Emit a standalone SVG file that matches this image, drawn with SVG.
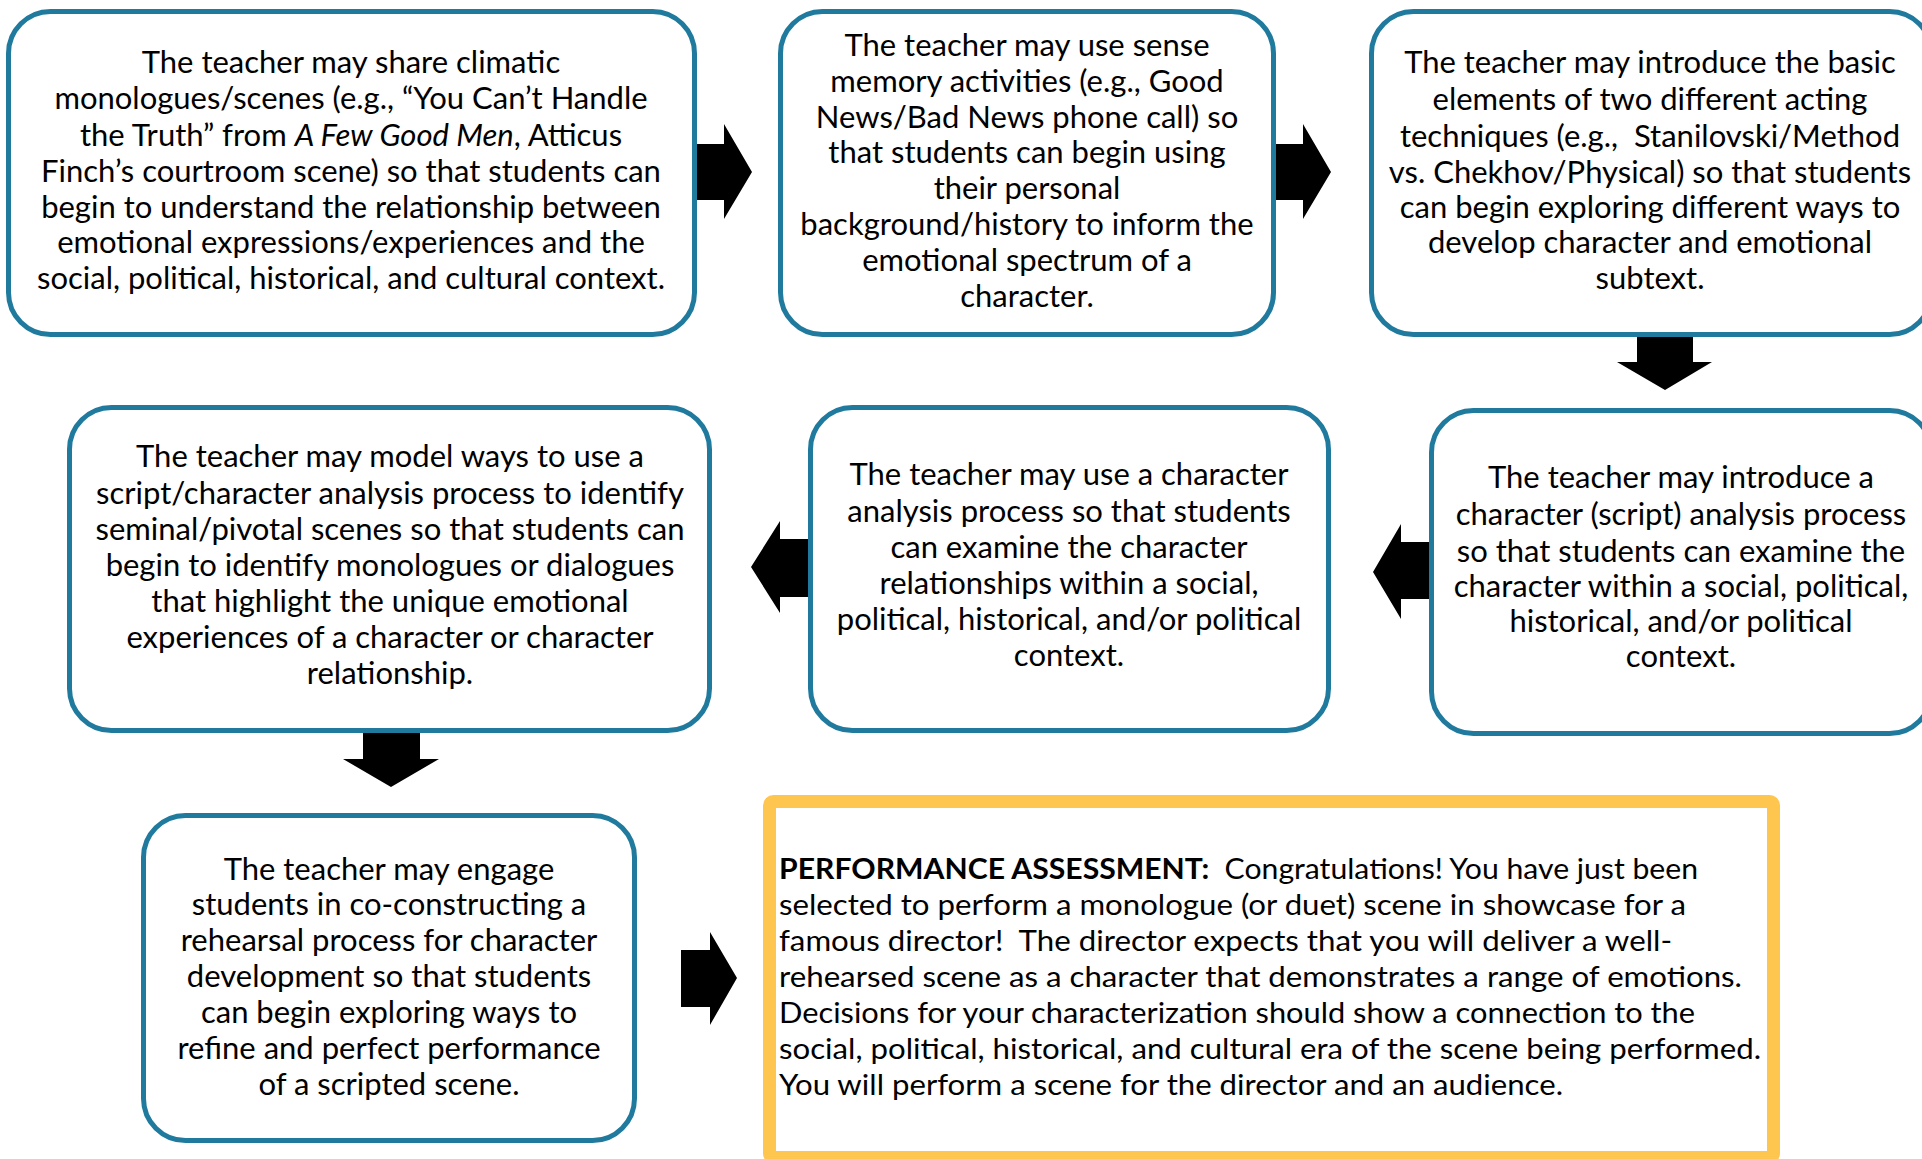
<svg xmlns="http://www.w3.org/2000/svg" width="1922" height="1159" viewBox="0 0 1922 1159">
<style>
.box{fill:#fff;stroke:#1F7A9E;stroke-width:5}
.pa{fill:#fff;stroke:#FFC64F;stroke-width:13}
.t{font-family:Lato,"Open Sans","Liberation Sans",sans-serif;font-size:31px;fill:#000;text-anchor:middle}
.l{font-family:Lato,"Open Sans","Liberation Sans",sans-serif;font-size:28px;fill:#000}
.arr{fill:#000}
</style>
<rect width="1922" height="1159" fill="#fff"/>
<g id="connectors">
<polygon class="arr" points="695,144 724,144 724,124 752,172 724,219 724,200 695,200"/>
<polygon class="arr" points="1274,144 1303,144 1303,124 1331,172 1303,219 1303,200 1274,200"/>
<polygon class="arr" points="1637,336 1693,336 1693,362 1712,362 1665,390 1617,362 1637,362"/>
<polygon class="arr" points="1431,542 1401,542 1401,524 1373,572 1401,619 1401,599 1431,599"/>
<polygon class="arr" points="808,539 780,539 780,521 751,567 780,613 780,597 808,597"/>
<polygon class="arr" points="363,731 420,731 420,759 439,759 391,787 343,759 363,759"/>
<polygon class="arr" points="681,950 710,950 710,932 737,978 710,1025 710,1007 681,1007"/>
</g>
<g id="node1">
<rect class="box" x="8.5" y="11.5" width="686" height="323" rx="42"/>
<text class="t" x="351" y="73">The teacher may share climatic</text>
<text class="t" x="351" y="109">monologues/scenes (e.g., “You Can’t Handle</text>
<text class="t" x="351" y="146">the Truth” from <tspan font-style="italic">A Few Good Men</tspan>, Atticus</text>
<text class="t" x="351" y="182">Finch’s courtroom scene) so that students can</text>
<text class="t" x="351" y="218">begin to understand the relationship between</text>
<text class="t" x="351" y="253">emotional expressions/experiences and the</text>
<text class="t" x="351" y="289">social, political, historical, and cultural context.</text>
</g>
<g id="node2">
<rect class="box" x="780.5" y="11.5" width="493" height="323" rx="42"/>
<text class="t" x="1027" y="56">The teacher may use sense</text>
<text class="t" x="1027" y="92">memory activities (e.g., Good</text>
<text class="t" x="1027" y="128">News/Bad News phone call) so</text>
<text class="t" x="1027" y="163">that students can begin using</text>
<text class="t" x="1027" y="199">their personal</text>
<text class="t" x="1027" y="235">background/history to inform the</text>
<text class="t" x="1027" y="271">emotional spectrum of a</text>
<text class="t" x="1027" y="307">character.</text>
</g>
<g id="node3">
<rect class="box" x="1371.5" y="11.5" width="560" height="323" rx="42"/>
<text class="t" x="1650" y="73">The teacher may introduce the basic</text>
<text class="t" x="1650" y="110">elements of two different acting</text>
<text class="t" x="1650" y="147">techniques (e.g., &#160;Stanilovski/Method</text>
<text class="t" x="1650" y="183">vs. Chekhov/Physical) so that students</text>
<text class="t" x="1650" y="218">can begin exploring different ways to</text>
<text class="t" x="1650" y="253">develop character and emotional</text>
<text class="t" x="1650" y="289">subtext.</text>
</g>
<g id="node4">
<rect class="box" x="69.5" y="407.5" width="640" height="323" rx="42"/>
<text class="t" x="390" y="467">The teacher may model ways to use a</text>
<text class="t" x="390" y="504">script/character analysis process to identify</text>
<text class="t" x="390" y="540">seminal/pivotal scenes so that students can</text>
<text class="t" x="390" y="576">begin to identify monologues or dialogues</text>
<text class="t" x="390" y="612">that highlight the unique emotional</text>
<text class="t" x="390" y="648">experiences of a character or character</text>
<text class="t" x="390" y="684">relationship.</text>
</g>
<g id="node5">
<rect class="box" x="810.5" y="407.5" width="518" height="323" rx="42"/>
<text class="t" x="1069" y="485">The teacher may use a character</text>
<text class="t" x="1069" y="522">analysis process so that students</text>
<text class="t" x="1069" y="558">can examine the character</text>
<text class="t" x="1069" y="594">relationships within a social,</text>
<text class="t" x="1069" y="630">political, historical, and/or political</text>
<text class="t" x="1069" y="666">context.</text>
</g>
<g id="node6">
<rect class="box" x="1431.5" y="410.5" width="500" height="323" rx="42"/>
<text class="t" x="1681" y="488">The teacher may introduce a</text>
<text class="t" x="1681" y="525">character (script) analysis process</text>
<text class="t" x="1681" y="562">so that students can examine the</text>
<text class="t" x="1681" y="597">character within a social, political,</text>
<text class="t" x="1681" y="632">historical, and/or political</text>
<text class="t" x="1681" y="667">context.</text>
</g>
<g id="node7">
<rect class="box" x="143.5" y="815.5" width="491" height="325" rx="42"/>
<text class="t" x="389" y="880">The teacher may engage</text>
<text class="t" x="389" y="915">students in co-constructing a</text>
<text class="t" x="389" y="951">rehearsal process for character</text>
<text class="t" x="389" y="987">development so that students</text>
<text class="t" x="389" y="1023">can begin exploring ways to</text>
<text class="t" x="389" y="1059">refine and perfect performance</text>
<text class="t" x="389" y="1095">of a scripted scene.</text>
</g>
<g id="node8">
<rect class="pa" x="769.5" y="801.5" width="1004" height="356" rx="4"/>
<text class="l" x="779" y="879" textLength="919" lengthAdjust="spacingAndGlyphs"><tspan font-weight="bold">PERFORMANCE ASSESSMENT:</tspan>&#160; Congratulations! You have just been</text>
<text class="l" x="779" y="915" textLength="907" lengthAdjust="spacingAndGlyphs">selected to perform a monologue (or duet) scene in showcase for a</text>
<text class="l" x="779" y="951" textLength="893" lengthAdjust="spacingAndGlyphs">famous director!&#160; The director expects that you will deliver a well-</text>
<text class="l" x="779" y="987" textLength="963" lengthAdjust="spacingAndGlyphs">rehearsed scene as a character that demonstrates a range of emotions.</text>
<text class="l" x="779" y="1023" textLength="916" lengthAdjust="spacingAndGlyphs">Decisions for your characterization should show a connection to the</text>
<text class="l" x="779" y="1059" textLength="982" lengthAdjust="spacingAndGlyphs">social, political, historical, and cultural era of the scene being performed.</text>
<text class="l" x="779" y="1095" textLength="784" lengthAdjust="spacingAndGlyphs">You will perform a scene for the director and an audience.</text>
</g>
</svg>
